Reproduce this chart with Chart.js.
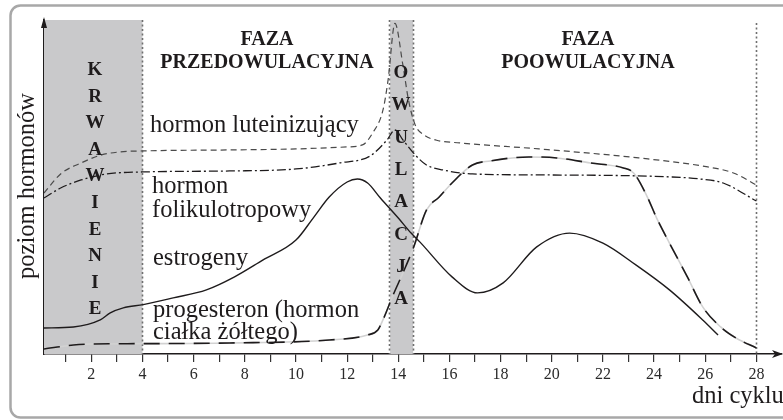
<!DOCTYPE html>
<html lang="pl">
<head>
<meta charset="utf-8">
<title>Cykl miesiączkowy - poziom hormonów</title>
<script src="https://cdn.jsdelivr.net/npm/chart.js@4.4.1/dist/chart.umd.min.js"></script>
<style>
    html, body { margin: 0; padding: 0; background: #fff; }
    #wrap { width: 783px; height: 420px; }
</style>
</head>
<body>
<div id="wrap"><canvas id="cycle-chart" width="783" height="420"></canvas></div>
<script>
// dni cyklu (oś x) i poziomy hormonów (oś y, 0-100)
const tickDays = [1, 2, 3, 4, 5, 6, 7, 8, 9, 10, 11, 12, 13, 14, 15, 16, 17, 18, 19, 20, 21, 22, 23, 24, 25, 26, 27, 28];

const lhDays = [0.15, 0.8, 1.6, 2.4, 3.1, 4.0, 7.4, 10.0, 12.0, 12.6, 13.0, 13.4, 13.6, 13.87, 14.18, 14.4, 14.66, 15.0, 15.5, 16.4, 19.5, 23.4, 26.1, 27.1, 28.0];
const lhLevels = [48.2, 53.9, 57.2, 59.6, 60.5, 60.8, 61.1, 61.4, 62.0, 62.6, 66.2, 73.0, 82.0, 99.0, 86.5, 76.0, 68.6, 65.6, 64.0, 63.2, 61.4, 58.7, 56.0, 54.2, 50.6];

const fshDays = [0.15, 0.8, 1.6, 2.6, 4.0, 7.4, 10.0, 11.7, 12.9, 13.56, 13.87, 14.18, 14.66, 15.1, 15.75, 16.9, 20.0, 24.7, 25.8, 26.7, 28.0];
const fshLevels = [46.7, 49.7, 52.1, 53.9, 54.5, 54.8, 55.4, 57.2, 59.3, 64.1, 67.1, 64.1, 59.6, 56.6, 55.1, 53.9, 53.6, 53.0, 52.4, 51.2, 45.8];

const estrogenDays = [0.15, 1.3, 2.35, 2.74, 3.25, 4.03, 5.2, 6.5, 7.6, 8.7, 10.0, 10.7, 11.3, 12.0, 12.4, 12.8, 13.3, 14.0, 14.5, 14.85, 16.1, 17.1, 18.1, 19.4, 20.7, 22.0, 23.3, 24.6, 25.9, 26.5];
const estrogenLevels = [7.8, 8.1, 10.2, 12.3, 13.8, 14.8, 16.8, 19.2, 23.1, 28.1, 34.1, 41.0, 47.0, 51.5, 52.4, 51.2, 46.7, 40.7, 36.2, 33.5, 23.1, 18.3, 21.3, 32.0, 36.2, 33.2, 26.6, 19.2, 10.2, 5.7];

const progesteronDays = [0.15, 1.3, 2.0, 4.0, 7.4, 11.3, 12.8, 13.2, 13.4, 13.8, 14.2, 14.6, 15.1, 15.6, 16.1, 16.9, 17.6, 19.1, 20.2, 21.5, 22.8, 23.2, 23.7, 24.1, 24.6, 25.3, 25.9, 26.6, 27.2, 28.0];
const progesteronLevels = [1.5, 2.7, 3.0, 3.1, 3.3, 4.2, 5.7, 7.2, 10.2, 17.7, 24.6, 32.0, 43.1, 47.0, 51.2, 56.6, 57.8, 59.0, 58.7, 57.2, 55.7, 54.2, 47.6, 40.7, 33.2, 23.1, 14.1, 8.1, 4.8, 1.8];

// fazy cyklu (w dniach)
const bleedingSpan = [0.15, 4];
const ovulationSpan = [13.68, 14.58];
const dividerDays = [4, 13.62, 14.58, 28];

const serif = '"Liberation Serif", "DejaVu Serif", serif';
const ink = '#1e1b1c';

function points(days, levels) {
    return days.map((d, i) => ({ x: d, y: levels[i] }));
}

function text(ctx, str, x, y, font, align) {
    ctx.font = font;
    ctx.textAlign = align || 'left';
    ctx.textBaseline = 'alphabetic';
    ctx.fillText(str, x, y);
}

const phasePlugin = {
    id: 'phases',
    beforeDatasetsDraw(chart) {
        const { ctx, chartArea: area, scales: { x } } = chart;
        ctx.save();
        ctx.fillStyle = '#c9c9cb';
        [bleedingSpan, ovulationSpan].forEach(([a, b]) => {
            const x0 = x.getPixelForValue(a);
            const x1 = x.getPixelForValue(b);
            ctx.fillRect(x0, area.top, x1 - x0, area.bottom - area.top);
        });
        ctx.strokeStyle = '#6f6f6f';
        ctx.lineWidth = 1.6;
        ctx.setLineDash([2, 2.5]);
        dividerDays.forEach(d => {
            const px = Math.round(x.getPixelForValue(d)) + 0.5;
            ctx.beginPath();
            ctx.moveTo(px, d === 28 ? area.top + 3 : area.top);
            ctx.lineTo(px, area.bottom);
            ctx.stroke();
        });
        ctx.restore();
    },
    afterDraw(chart) {
        const { ctx, chartArea: area } = chart;
        ctx.save();

        // strzałki osi
        ctx.fillStyle = ink;
        ctx.beginPath();
        ctx.moveTo(area.left, area.top - 3);
        ctx.lineTo(area.left - 3, area.top + 8);
        ctx.lineTo(area.left + 3, area.top + 8);
        ctx.closePath();
        ctx.fill();
        ctx.beginPath();
        ctx.moveTo(area.right + 1, area.bottom);
        ctx.lineTo(area.right - 10, area.bottom - 4);
        ctx.lineTo(area.right - 7, area.bottom);
        ctx.lineTo(area.right - 10, area.bottom + 4);
        ctx.closePath();
        ctx.fill();

        // napisy faz
        const bold = 'bold 20px ' + serif;
        text(ctx, 'FAZA', 267, 45, bold, 'center');
        text(ctx, 'PRZEDOWULACYJNA', 267, 68, bold, 'center');
        text(ctx, 'FAZA', 588, 45, bold, 'center');
        text(ctx, 'POOWULACYJNA', 588, 68, bold, 'center');

        const letters = 'bold 19px ' + serif;
        'KRWAWIENIE'.split('').forEach((ch, i) => text(ctx, ch, 95, 75 + i * 26.6, letters, 'center'));
        'OWULACJA'.split('').forEach((ch, i) => text(ctx, ch, 401, 78 + i * 32.3, letters, 'center'));

        // podpisy krzywych
        const reg = '24.5px ' + serif;
        text(ctx, 'hormon luteinizujący', 150, 132, reg);
        text(ctx, 'hormon', 152, 193, reg);
        text(ctx, 'folikulotropowy', 152, 217, reg);
        text(ctx, 'estrogeny', 153, 265, reg);
        text(ctx, 'progesteron (hormon', 153, 317, reg);
        text(ctx, 'ciałka żółtego)', 153, 339, reg);
        text(ctx, 'dni cyklu', 692, 403, reg);

        ctx.translate(34, 186);
        ctx.rotate(-Math.PI / 2);
        text(ctx, 'poziom hormonów', 0, 0, reg, 'center');
        ctx.setTransform(1, 0, 0, 1, 0, 0);

        // ramka
        ctx.strokeStyle = '#a8a8a8';
        ctx.lineWidth = 2.5;
        ctx.beginPath();
        ctx.roundRect(10.5, 5.5, 800, 412, 10);
        ctx.stroke();
        ctx.restore();
    }
};

const lineBase = {
    fill: false,
    pointRadius: 0,
    cubicInterpolationMode: 'monotone',
    borderCapStyle: 'butt'
};

// Chart.js rysuje pierwszy zbiór na wierzchu, więc czarne kreski progesteronu idą przed szarą linią
new Chart(document.getElementById('cycle-chart'), {
    type: 'line',
    data: {
        datasets: [
            { ...lineBase, label: 'hormon luteinizujący', data: points(lhDays, lhLevels), borderColor: '#4a4a4a', borderWidth: 1.2, borderDash: [6, 4] },
            { ...lineBase, label: 'hormon folikulotropowy', data: points(fshDays, fshLevels), borderColor: ink, borderWidth: 1.3, borderDash: [9, 3, 2, 3] },
            { ...lineBase, label: 'estrogeny', data: points(estrogenDays, estrogenLevels), borderColor: ink, borderWidth: 1.4 },
            { ...lineBase, label: 'progesteron (kreski)', data: points(progesteronDays, progesteronLevels), borderColor: ink, borderWidth: 1.6, borderDash: [16, 9] },
            { ...lineBase, label: 'progesteron', data: points(progesteronDays, progesteronLevels), borderColor: '#d2d2d2', borderWidth: 1.6 }
        ]
    },
    options: {
        responsive: false,
        animation: false,
        events: [],
        layout: { padding: { top: 20, right: 1, left: 0, bottom: 0 } },
        plugins: {
            legend: { display: false },
            tooltip: { enabled: false }
        },
        scales: {
            x: {
                type: 'linear',
                min: 0.15,
                max: 29,
                afterFit: scale => { scale.height = 66; },
                afterBuildTicks: scale => { scale.ticks = tickDays.map(v => ({ value: v })); },
                grid: { display: true, drawOnChartArea: false, drawTicks: true, tickLength: 8, color: '#333', lineWidth: 1.2 },
                border: { display: true, color: ink, width: 1.4 },
                ticks: {
                    autoSkip: false,
                    maxRotation: 0,
                    padding: 3,
                    color: '#2a2a2a',
                    font: { family: serif, size: 16 },
                    callback: value => (value % 2 === 0 ? value : '')
                }
            },
            y: {
                min: 0,
                max: 100,
                afterFit: scale => { scale.width = 44; },
                grid: { display: false },
                border: { display: true, color: ink, width: 1.4 },
                ticks: { display: false }
            }
        }
    },
    plugins: [phasePlugin]
});
</script>
</body>
</html>
